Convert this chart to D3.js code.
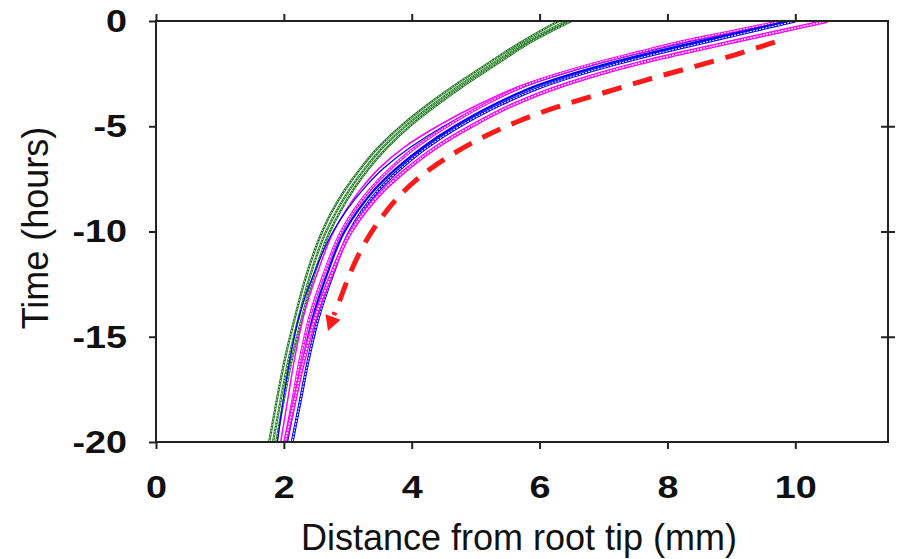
<!DOCTYPE html>
<html><head><meta charset="utf-8">
<script src="https://cdn.jsdelivr.net/npm/d3@7"></script>
<style>body{margin:0;background:#fff}</style>
</head><body><svg id="c" width="905" height="559"></svg>
<script>
// time (hours) at which each curve was read
const hours = [0,-0.5,-1,-1.5,-2,-3,-4,-5,-6,-7,-8,-9,-10,-12,-14,-16,-18,-20];
// distance from root tip (mm) for each curve
const green1 = [6.30,6.00,5.72,5.45,5.20,4.70,4.24,3.83,3.48,3.20,2.96,2.76,2.60,2.36,2.18,2.02,1.89,1.77];
const green2 = [6.42,6.10,5.80,5.53,5.28,4.78,4.32,3.90,3.55,3.27,3.03,2.83,2.66,2.42,2.24,2.08,1.95,1.83];
const green3 = [6.50,6.17,5.86,5.60,5.35,4.85,4.39,3.97,3.62,3.33,3.09,2.89,2.72,2.48,2.29,2.13,2.00,1.88];
const magentaIn = [9.80,9.00,8.20,7.53,6.88,5.77,5.02,4.40,3.88,3.49,3.20,2.97,2.78,2.52,2.31,2.17,2.06,1.95];
const blueIn    = [9.85,9.08,8.30,7.61,6.95,5.87,5.12,4.50,3.98,3.56,3.24,2.98,2.77,2.47,2.24,2.10,1.99,1.90];
const magentaUp = [9.80,9.00,8.20,7.53,6.88,5.82,5.12,4.55,4.06,3.67,3.35,3.10,2.90,2.63,2.41,2.26,2.14,2.02];
const blueUp    = [9.90,9.18,8.45,7.75,7.10,6.02,5.27,4.67,4.17,3.76,3.42,3.16,2.95,2.68,2.46,2.31,2.18,2.05];
const blueMid   = [10.00,9.30,8.60,7.90,7.25,6.15,5.37,4.75,4.24,3.83,3.49,3.23,3.03,2.77,2.55,2.39,2.26,2.13];
const magentaLow= [10.50,9.75,9.00,8.26,7.56,6.42,5.57,4.93,4.38,3.94,3.57,3.28,3.05,2.75,2.50,2.32,2.17,2.02];
// red dashed arrow (annotation)
const arrowX = [9.68,9.06,8.35,7.65,6.95,6.24,5.62,5.07,4.60,4.15,3.76,3.45,3.20,3.00,2.85,2.78];
const arrowT = [-1.00,-1.62,-2.23,-2.80,-3.47,-4.09,-4.80,-5.56,-6.37,-7.30,-8.40,-9.62,-10.85,-12.21,-13.49,-13.97];
const arrowTip = [2.69,-14.73];
const xTicks = [0,2,4,6,8,10];
const yTicks = [0,-5,-10,-15,-20];

const series = [
  {v:green1, c:"#0d6e0d", w:2.2, hatch:true},
  {v:green2, c:"#137813", w:2.2, hatch:true},
  {v:green3, c:"#0d6e0d", w:2.2, hatch:true},
  {v:magentaIn, c:"#ff00ff", w:1.5, hatch:false},
  {v:blueIn, c:"#0000ff", w:1.3, hatch:false},
  {v:magentaUp, c:"#ff00ff", w:3, hatch:true},
  {v:blueUp, c:"#0000ff", w:2.2, hatch:false},
  {v:blueMid, c:"#0000ff", w:3, hatch:true},
  {v:magentaLow, c:"#ff00ff", w:4, hatch:true}
];

const svg = d3.select("#c");
const L=156, R=888, T=21, B=442;
const x = d3.scaleLinear().domain([0,11.45]).range([L,R]);
const y = d3.scaleLinear().domain([-20,0]).range([B,T]);

svg.append("defs").append("clipPath").attr("id","clip")
  .append("rect").attr("x",L).attr("y",T).attr("width",R-L).attr("height",B-T);

const line = d3.line().x(d=>x(d[0])).y(d=>y(d[1])).curve(d3.curveMonotoneY);
const g = svg.append("g").attr("clip-path","url(#clip)");
series.forEach(s=>{
  const pts = s.v.map((v,i)=>[v,hours[i]]);
  g.append("path").attr("d",line(pts)).attr("fill","none")
    .attr("stroke",s.c).attr("stroke-width",s.w);
  if(s.hatch){
    g.append("path").attr("d",line(pts)).attr("fill","none")
      .attr("stroke","#fff").attr("stroke-width",s.w*0.35)
      .attr("stroke-dasharray","2,1.2");
  }
});

// red dashed arrow
const apts = arrowX.map((v,i)=>[v,arrowT[i]]);
const aline = d3.line().x(d=>x(d[0])).y(d=>y(d[1])).curve(d3.curveBasis);
svg.append("path").attr("d",aline(apts)).attr("fill","none")
  .attr("stroke","#ff1a1a").attr("stroke-width",5).attr("stroke-dasharray","20,12");
{
  const tx=x(arrowTip[0]), ty=y(arrowTip[1]);
  const p=apts[apts.length-1];
  const bx=x(p[0]), by=y(p[1]);
  const dx=tx-bx, dy=ty-by, len=Math.hypot(dx,dy);
  const ux=dx/len, uy=dy/len;
  const hl=15, hw=8;
  const cx=tx-ux*hl, cy=ty-uy*hl;
  svg.append("path").attr("fill","#ff1a1a")
    .attr("d",`M${tx},${ty}L${cx-uy*hw},${cy+ux*hw}L${cx+uy*hw},${cy-ux*hw}Z`);
}

// frame
svg.append("rect").attr("x",L).attr("y",T).attr("width",R-L).attr("height",B-T)
  .attr("fill","none").attr("stroke","#222").attr("stroke-width",2);

// axes
const fmt = d=>String(d);
const ax = (sel)=>{sel.select(".domain").remove(); sel.selectAll("line").attr("stroke","#222").attr("stroke-width",2);};
const stretch = function(){ const w=this.getComputedTextLength(); d3.select(this).attr("textLength",w*1.18).attr("lengthAdjust","spacingAndGlyphs"); };
svg.append("g").attr("transform",`translate(0,${B})`)
  .call(d3.axisBottom(x).tickValues(xTicks).tickSize(7).tickPadding(26).tickFormat(fmt))
  .call(ax)
  .selectAll("text").attr("font-family","Liberation Sans, Arial, sans-serif")
  .attr("font-weight","bold").attr("font-size",32).attr("fill","#111").each(stretch);
svg.append("g").attr("transform",`translate(0,${T})`)
  .call(d3.axisTop(x).tickValues(xTicks).tickSize(7).tickFormat(""))
  .call(ax);
svg.append("g").attr("transform",`translate(${L},0)`)
  .call(d3.axisLeft(y).tickValues(yTicks).tickSize(7).tickPadding(22).tickFormat(fmt))
  .call(ax)
  .selectAll("text").attr("font-family","Liberation Sans, Arial, sans-serif")
  .attr("font-weight","bold").attr("font-size",32).attr("fill","#111").each(stretch);
svg.append("g").attr("transform",`translate(${R},0)`)
  .call(d3.axisRight(y).tickValues(yTicks.slice(1,4)).tickSizeInner(7).tickSizeOuter(0).tickFormat(""))
  .call(ax)
  .selectAll("line").attr("x1",-7);

svg.append("text").attr("x",(L+R)/2-3).attr("y",550).attr("text-anchor","middle")
  .attr("font-family","Liberation Sans, Arial, sans-serif").attr("font-size",36).attr("fill","#111")
  .text("Distance from root tip (mm)");
svg.append("text").attr("transform",`translate(48,228) rotate(-90)`).attr("text-anchor","middle")
  .attr("font-family","Liberation Sans, Arial, sans-serif").attr("font-size",36).attr("fill","#111")
  .text("Time (hours)");
</script></body></html>
